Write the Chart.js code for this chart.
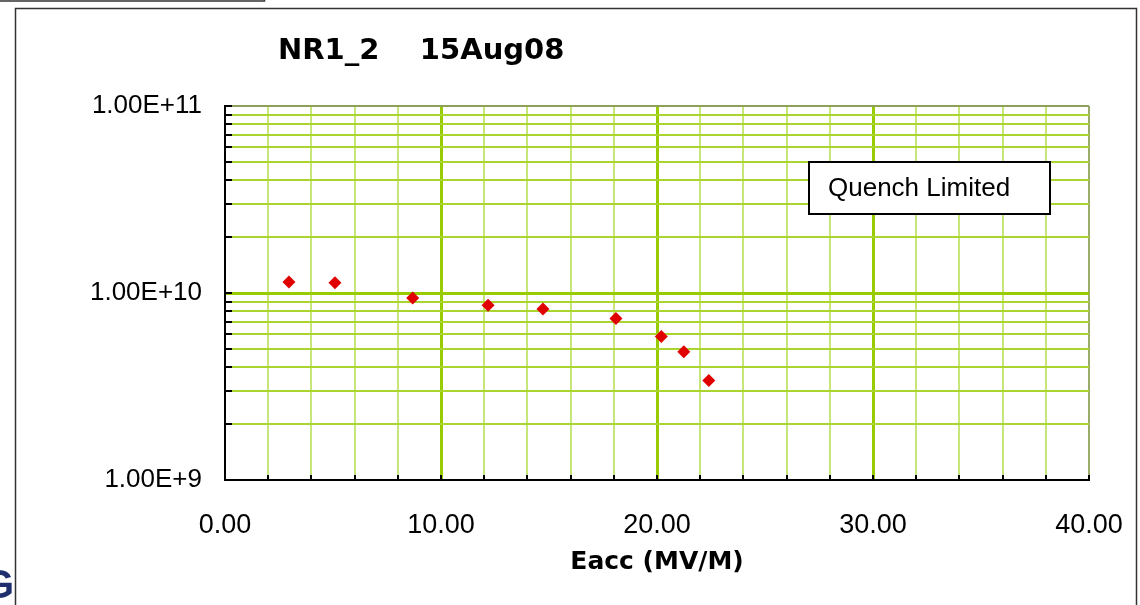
<!DOCTYPE html>
<html>
<head>
<meta charset="utf-8">
<script src="https://cdn.jsdelivr.net/npm/chart.js@4.4.1/dist/chart.umd.min.js"></script>
<style>
  html, body { margin: 0; padding: 0; background: #ffffff; }
  #wrap { position: relative; width: 1140px; height: 605px; }
</style>
</head>
<body>
<div id="wrap"><canvas id="c" width="1140" height="605"></canvas></div>
<script>
// ---- data ----
const chartTitle = "NR1_2    15Aug08";
const xAxisTitle = "Eacc (MV/M)";
const noteText = "Quench Limited";
const eaccValues = [2.96, 5.09, 8.69, 12.18, 14.72, 18.10, 20.20, 21.24, 22.40];
const q0Values   = [1.145e10, 1.136e10, 9.4e9, 8.6e9, 8.2e9, 7.3e9, 5.85e9, 4.85e9, 3.4e9];
const xLabelValues = [0, 10, 20, 30, 40];
const yLabelValues = [1e9, 1e10, 1e11];
const yDecades = [1e9, 1e10];
const yMantissas = [1, 2, 3, 4, 5, 6, 7, 8, 9];

const points = eaccValues.map((x, i) => ({ x: x, y: q0Values[i] }));

const isDecade = v => yLabelValues.some(d => Math.abs(v - d) / d < 1e-6);

const decorPlugin = {
  id: 'decor',
  beforeDraw(chart) {
    const ctx = chart.ctx;
    ctx.save();
    ctx.fillStyle = '#ffffff';
    ctx.fillRect(0, 0, chart.width, chart.height);
    ctx.restore();
  },
  afterDraw(chart) {
    const ctx = chart.ctx;
    const a = chart.chartArea;
    const xs = chart.scales.x, ys = chart.scales.y;
    ctx.save();
    // inward tick marks
    ctx.strokeStyle = '#000000';
    ctx.lineWidth = 2;
    xs.ticks.forEach(t => {
      const px = Math.round(xs.getPixelForValue(t.value));
      ctx.beginPath(); ctx.moveTo(px, a.bottom); ctx.lineTo(px, a.bottom - 5); ctx.stroke();
    });
    ys.ticks.forEach(t => {
      const py = Math.round(ys.getPixelForValue(t.value));
      ctx.beginPath(); ctx.moveTo(a.left, py); ctx.lineTo(a.left + 7, py); ctx.stroke();
    });
    // title
    ctx.fillStyle = '#000000';
    ctx.font = 'bold 29px "DejaVu Sans"';
    ctx.textBaseline = 'alphabetic';
    ctx.textAlign = 'left';
    ctx.fillText(chartTitle, 278, 59);
    // note box
    ctx.fillStyle = '#ffffff';
    ctx.fillRect(809, 162, 241, 52);
    ctx.strokeStyle = '#000000';
    ctx.lineWidth = 2;
    ctx.strokeRect(809, 162, 241, 52);
    ctx.fillStyle = '#000000';
    ctx.font = '26px "Liberation Sans", Arial, sans-serif';
    ctx.textBaseline = 'middle';
    ctx.fillText(noteText, 828, 189);
    // outer frame
    ctx.strokeStyle = '#333333';
    ctx.lineWidth = 1.5;
    ctx.beginPath();
    ctx.moveTo(15.5, 605); ctx.lineTo(15.5, 8.5); ctx.lineTo(1136.5, 8.5); ctx.lineTo(1136.5, 605);
    ctx.stroke();
    ctx.beginPath();
    ctx.moveTo(0, 1); ctx.lineTo(264.5, 1); ctx.lineTo(264.5, 0);
    ctx.stroke();
    // logo fragment
    ctx.beginPath(); ctx.rect(0, 560, 14, 45); ctx.clip();
    ctx.fillStyle = '#1f2f6e';
    ctx.font = 'bold 40px "Liberation Sans", Arial, sans-serif';
    ctx.textAlign = 'right';
    ctx.textBaseline = 'alphabetic';
    ctx.fillText('G', 14, 598);
    ctx.restore();
  }
};

new Chart(document.getElementById('c'), {
  type: 'scatter',
  data: {
    datasets: [{
      data: points,
      pointStyle: 'rectRot',
      pointRadius: 6.5,
      pointHoverRadius: 6.5,
      backgroundColor: '#e00000',
      borderColor: '#e00000',
      borderWidth: 0,
      showLine: false
    }]
  },
  options: {
    responsive: false,
    animation: false,
    events: [],
    layout: { padding: { top: 106, right: 51, left: 0, bottom: 0 } },
    plugins: { legend: { display: false }, tooltip: { enabled: false }, title: { display: false } },
    scales: {
      x: {
        type: 'linear',
        min: 0, max: 40,
        afterFit(s) { s.height = 125; s.paddingRight = 0; s.paddingLeft = 0; },
        ticks: {
          stepSize: 2,
          autoSkip: false,
          maxRotation: 0,
          padding: 29,
          color: '#000000',
          font: { family: '"Liberation Sans", Arial, sans-serif', size: 27 },
          callback: v => xLabelValues.includes(v) ? v.toFixed(2) : ''
        },
        grid: {
          drawTicks: false,
          color: c => (c.tick && c.tick.value === 40) ? '#9aab6a' : (c.tick && c.tick.value % 10 === 0 ? '#99cc00' : '#c6e67a'),
          lineWidth: c => (c.tick && c.tick.value % 10 === 0 && c.tick.value !== 0 && c.tick.value !== 40) ? 3 : 2
        },
        border: { display: true, color: '#000000', width: 2 },
        title: {
          display: true,
          text: xAxisTitle,
          color: '#000000',
          font: { family: '"DejaVu Sans"', size: 25, weight: 'bold' },
          padding: { top: 28, bottom: 28 }
        }
      },
      y: {
        type: 'logarithmic',
        min: 1e9, max: 1e11,
        afterFit(s) { s.width = 225; s.paddingTop = 0; s.paddingBottom = 0; },
        afterBuildTicks(s) {
          const t = [];
          yDecades.forEach(d => yMantissas.forEach(m => t.push({ value: d * m })));
          t.push({ value: yLabelValues[yLabelValues.length - 1] });
          s.ticks = t;
        },
        ticks: {
          autoSkip: false,
          padding: 23,
          color: '#000000',
          font: { family: '"Liberation Sans", Arial, sans-serif', size: 26 },
          callback: v => isDecade(v) ? Number(v).toExponential(2).toUpperCase() : ''
        },
        grid: {
          drawTicks: false,
          color: c => {
            if (!c.tick) return '#aad430';
            const v = c.tick.value;
            if (Math.abs(v - 1e11) / 1e11 < 1e-6) return '#8da05a';
            return isDecade(v) ? '#99cc00' : '#aad430';
          },
          lineWidth: c => (c.tick && Math.abs(c.tick.value - 1e10) / 1e10 < 1e-6) ? 3 : 2
        },
        border: { display: true, color: '#000000', width: 2 }
      }
    }
  },
  plugins: [decorPlugin]
});
</script>
</body>
</html>
